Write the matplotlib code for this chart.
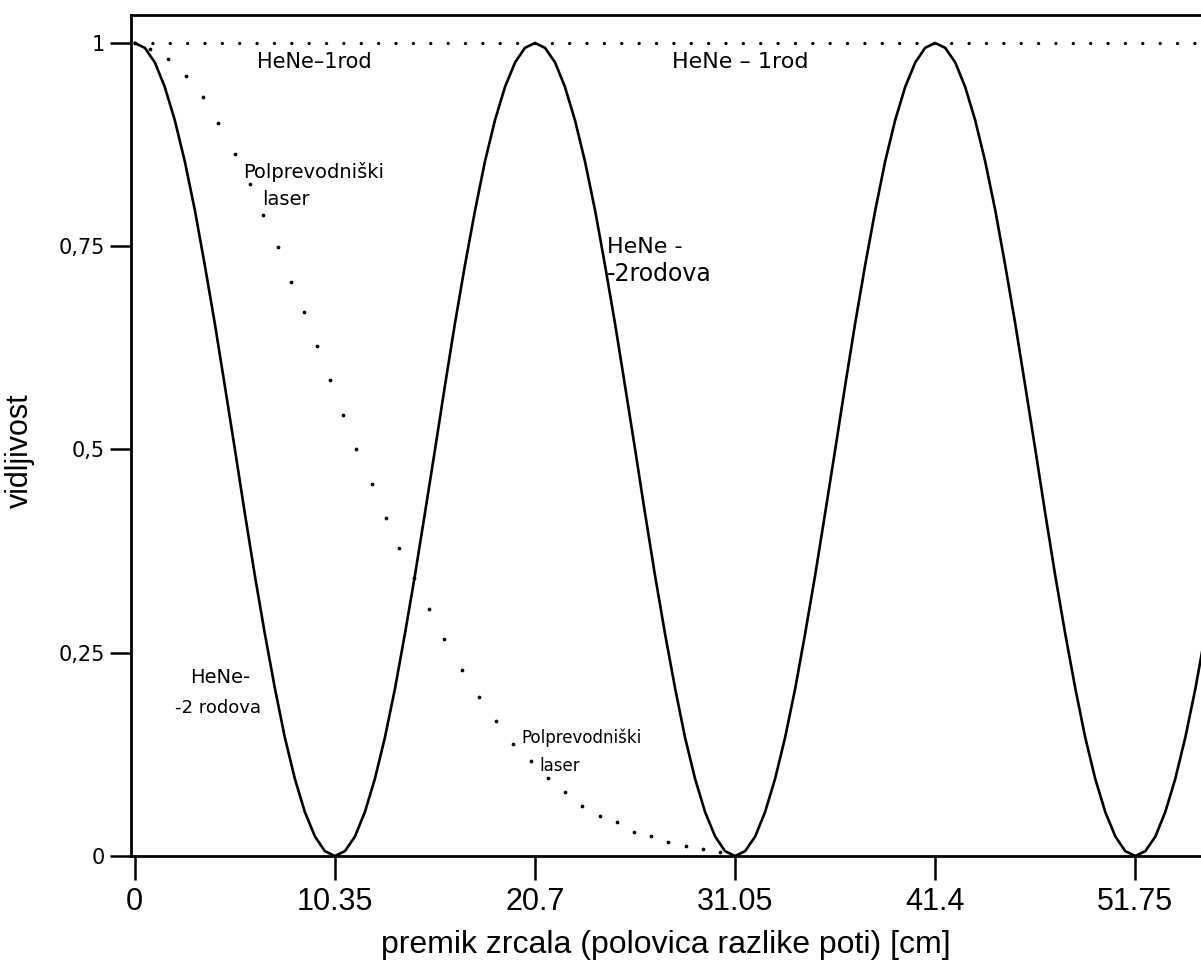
import matplotlib.pyplot as plt

# premik zrcala [cm] in vidljivost za HeNe z 2 rodovoma (odčitano s slike)
x_hene2 = [
    0.00, 0.52, 1.04, 1.55, 2.07, 2.59, 3.11, 3.62, 4.14, 4.66, 5.18, 5.69, 6.21, 6.73, 7.25, 7.76, 8.28, 8.80, 9.32, 9.83,
    10.35, 10.87, 11.39, 11.90, 12.42, 12.94, 13.46, 13.97, 14.49, 15.01, 15.53, 16.04, 16.56, 17.08, 17.60, 18.11, 18.63, 19.15, 19.67, 20.18,
    20.70, 21.22, 21.74, 22.25, 22.77, 23.29, 23.81, 24.32, 24.84, 25.36, 25.88, 26.39, 26.91, 27.43, 27.95, 28.46, 28.98, 29.50, 30.02, 30.53,
    31.05, 31.57, 32.09, 32.60, 33.12, 33.64, 34.16, 34.67, 35.19, 35.71, 36.23, 36.74, 37.26, 37.78, 38.30, 38.81, 39.33, 39.85, 40.37, 40.88,
    41.40, 41.92, 42.44, 42.95, 43.47, 43.99, 44.51, 45.02, 45.54, 46.06, 46.58, 47.09, 47.61, 48.13, 48.65, 49.16, 49.68, 50.20, 50.72, 51.23,
    51.75, 52.27, 52.79, 53.30, 53.82, 54.34, 54.86, 55.37,
]
v_hene2 = [
    1.000, 0.994, 0.976, 0.946, 0.905, 0.854, 0.794, 0.727, 0.655, 0.578, 0.500, 0.422, 0.345, 0.273, 0.206, 0.146, 0.095, 0.054, 0.024, 0.006,
    0.000, 0.006, 0.024, 0.054, 0.095, 0.146, 0.206, 0.273, 0.345, 0.422, 0.500, 0.578, 0.655, 0.727, 0.794, 0.854, 0.905, 0.946, 0.976, 0.994,
    1.000, 0.994, 0.976, 0.946, 0.905, 0.854, 0.794, 0.727, 0.655, 0.578, 0.500, 0.422, 0.345, 0.273, 0.206, 0.146, 0.095, 0.054, 0.024, 0.006,
    0.000, 0.006, 0.024, 0.054, 0.095, 0.146, 0.206, 0.273, 0.345, 0.422, 0.500, 0.578, 0.655, 0.727, 0.794, 0.854, 0.905, 0.946, 0.976, 0.994,
    1.000, 0.994, 0.976, 0.946, 0.905, 0.854, 0.794, 0.727, 0.655, 0.578, 0.500, 0.422, 0.345, 0.273, 0.206, 0.146, 0.095, 0.054, 0.024, 0.006,
    0.000, 0.006, 0.024, 0.054, 0.095, 0.146, 0.206, 0.273,
]

# polprevodniški laser (pikčasta krivulja)
x_laser = [0.00, 0.78, 1.71, 2.64, 3.52, 4.29, 5.17, 5.95, 6.62, 7.40, 8.07, 8.74, 9.42, 10.09, 10.76,
           11.43, 12.26, 12.98, 13.66, 14.43, 15.21, 15.99, 16.92, 17.80, 18.68, 19.56, 20.49, 21.37,
           22.25, 23.12, 24.06, 24.94, 25.81, 26.69, 27.57, 28.50, 29.38, 30.26]
v_laser = [1.000, 0.993, 0.980, 0.959, 0.934, 0.901, 0.864, 0.827, 0.789, 0.749, 0.706, 0.669, 0.627,
           0.585, 0.543, 0.501, 0.458, 0.416, 0.379, 0.342, 0.304, 0.267, 0.229, 0.196, 0.166, 0.138,
           0.117, 0.096, 0.079, 0.062, 0.049, 0.042, 0.030, 0.025, 0.017, 0.012, 0.009, 0.005]

# HeNe z 1 rodom: vidljivost je ves čas 1
x_hene1 = [0.0, 55.4]
v_hene1 = [1.0, 1.0]

x_ticks = [0, 10.35, 20.7, 31.05, 41.4, 51.75]
x_ticklabels = ['0', '10.35', '20.7', '31.05', '41.4', '51.75']
y_ticks = [0, 0.25, 0.5, 0.75, 1]
y_ticklabels = ['0', '0,25', '0,5', '0,75', '1']

fig = plt.figure(figsize=(12.01, 9.69), dpi=100)
ax = fig.add_axes([0.109, 0.1166, 0.891, 0.868])

ax.plot(x_hene2, v_hene2, color='black', lw=1.9)
ax.plot(x_laser, v_laser, 'o', color='black', ms=2.7, mew=0)
ax.plot(x_hene1, v_hene1, color='black', lw=2.4,
        linestyle=(0, (0.01, 5.2)), dash_capstyle='round')

ax.set_xlim(-0.2, 55.15)
ax.set_ylim(0, 1.0345)

ax.spines['right'].set_visible(False)
for s in ['left', 'top', 'bottom']:
    ax.spines[s].set_linewidth(2.0)

ax.set_xticks(x_ticks)
ax.set_xticklabels(x_ticklabels, fontfamily='Liberation Sans', fontsize=22)
ax.set_yticks(y_ticks)
ax.set_yticklabels(y_ticklabels, fontfamily='DejaVu Sans', fontsize=15)
ax.tick_params(axis='x', direction='out', length=17, width=1.8, pad=5)
ax.tick_params(axis='y', direction='out', length=15, width=1.8, pad=4)

ax.set_xlabel('premik zrcala (polovica razlike poti) [cm]',
              fontfamily='Liberation Sans', fontsize=23)
ax.xaxis.set_label_coords(0.5, -0.088)
ax.set_ylabel('vidljivost', fontfamily='Liberation Sans', fontsize=22)
ax.yaxis.set_label_coords(-0.09, 0.482)

# ročno napisane oznake
hand = dict(fontfamily='DejaVu Sans', color='black', va='center')
ax.text(9.3, 0.977, 'HeNe–1rod', ha='center', fontsize=15, **hand)
ax.text(31.3, 0.977, 'HeNe – 1rod', ha='center', fontsize=16, **hand)
ax.text(5.6, 0.841, 'Polprevodniški', ha='left', fontsize=14, **hand)
ax.text(6.6, 0.808, 'laser', ha='left', fontsize=14, **hand)
ax.text(24.4, 0.749, 'HeNe -', ha='left', fontsize=16, **hand)
ax.text(24.4, 0.716, '-2rodova', ha='left', fontsize=17, **hand)
ax.text(2.85, 0.219, 'HeNe-', ha='left', fontsize=14, **hand)
ax.text(2.07, 0.182, '-2 rodova', ha='left', fontsize=13, **hand)
ax.text(20.0, 0.145, 'Polprevodniški', ha='left', fontsize=12, **hand)
ax.text(20.95, 0.111, 'laser', ha='left', fontsize=12, **hand)

fig.savefig('out.png', dpi=100)
